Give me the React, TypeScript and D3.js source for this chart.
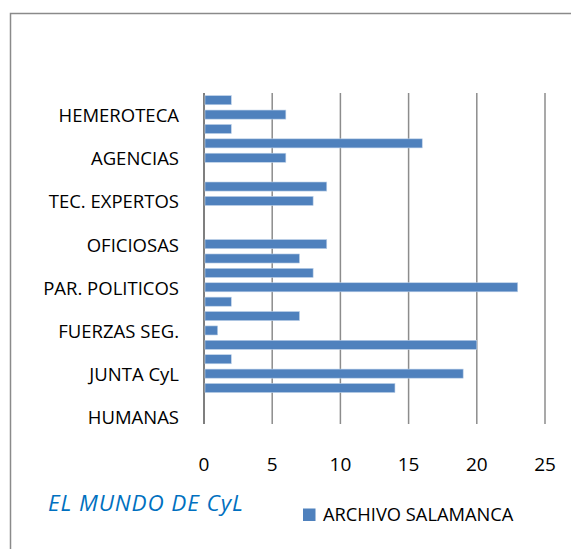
import React from 'react';
import * as d3 from 'd3';

// categories from top to bottom; only every third one carries a visible label
const labels = [
  '', 'HEMEROTECA', '', '', 'AGENCIAS', '', '', 'TEC. EXPERTOS', '', '',
  'OFICIOSAS', '', '', 'PAR. POLITICOS', '', '', 'FUERZAS SEG.', '', '',
  'JUNTA CyL', '', '', 'HUMANAS',
];
const values = [2, 6, 2, 16, 6, 0, 9, 8, 0, 0, 9, 7, 8, 23, 2, 7, 1, 20, 2, 19, 14, 0, 0];
const xTicks = [0, 5, 10, 15, 20, 25];
const seriesName = 'ARCHIVO SALAMANCA';
const title = 'EL MUNDO DE CyL';

const W = 571;
const H = 549;
const font = '"Open Sans", Lato, sans-serif';

const App = () => {
  const left = 204;
  const right = 545;
  const top = 93;
  const bottom = 424;

  const x = d3.scaleLinear().domain([0, 25]).range([left, right]);
  const y = d3
    .scaleBand<number>()
    .domain(d3.range(values.length))
    .range([top, bottom])
    .paddingInner(0.37)
    .paddingOuter(0.185);

  return (
    <svg
      width={W}
      height={H}
      style={{ position: 'absolute', left: 0, top: 0 }}
      fontFamily={font}
    >
      <rect x={0} y={0} width={W} height={H} fill="#fff" />
      <path d={`M10.5,${H + 5} V13.5 H${W + 5}`} fill="none" stroke="#8a8a8a" strokeWidth={1.5} />

      {xTicks.map((t) => (
        <g key={t}>
          <line
            x1={x(t)}
            x2={x(t)}
            y1={top}
            y2={bottom}
            stroke={t === 0 ? '#7f7f7f' : '#8c8c8c'}
            strokeWidth={t === 0 ? 2 : 1.5}
          />
          <text x={x(t)} y={471} textAnchor="middle" fontSize={19} fill="#000">
            {t}
          </text>
        </g>
      ))}

      {values.map((v, i) => (
        <rect
          key={i}
          x={x(0) + 1}
          y={y(i)}
          width={Math.max(0, x(v) - x(0) - 1)}
          height={y.bandwidth()}
          fill="#4F81BD"
          stroke={v > 0 ? '#bcd0e8' : 'none'}
          strokeWidth={0.6}
        />
      ))}

      {labels.map((l, i) =>
        l ? (
          <text
            key={i}
            x={179}
            y={(y(i) ?? 0) + y.bandwidth() / 2 + 7.5}
            textAnchor="end"
            fontSize={18.5}
            fill="#000"
          >
            {l}
          </text>
        ) : null
      )}

      <text x={48} y={511} fontSize={22.5} fontStyle="italic" letterSpacing={0.9} fill="#0070C0">
        {title}
      </text>
      <rect x={303} y={508.5} width={12.5} height={12.5} fill="#4F81BD" />
      <text x={323} y={521} fontSize={18.3} fill="#000">
        {seriesName}
      </text>
    </svg>
  );
};

export default App;
